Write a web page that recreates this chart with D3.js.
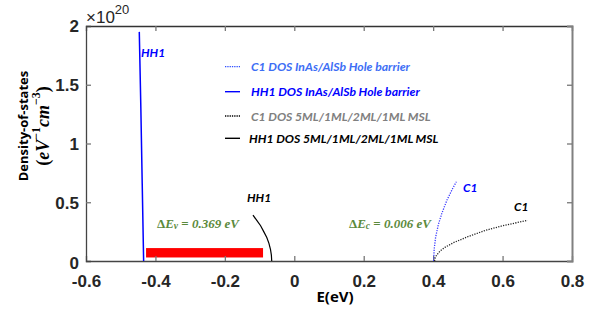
<!DOCTYPE html>
<html><head><meta charset="utf-8">
<script src="https://cdn.jsdelivr.net/npm/d3@7"></script>
<style>body{margin:0;background:#fff}svg{display:block}</style>
</head><body>
<script>
// Data (DOS in units of 1e20 eV^-1 cm^-3)
const xTicks = [-0.6, -0.4, -0.2, 0, 0.2, 0.4, 0.6, 0.8];
const yTicks = [0, 0.5, 1, 1.5, 2];
const xTickLabels = ["-0.6", "-0.4", "-0.2", "0", "0.2", "0.4", "0.6", "0.8"];
const yTickLabels = ["0", "0.5", "1", "1.5", "2"];

const hh1BarrierE   = [-0.4465, -0.4420, -0.4380, -0.4340];
const hh1BarrierDOS = [1.95, 1.30, 0.65, 0.0];

const c1BarrierE   = [0.4015, 0.4020, 0.4030, 0.4070, 0.4150, 0.4250, 0.4400, 0.4550, 0.4670];
const c1BarrierDOS = [0.0, 0.04, 0.10, 0.20, 0.31, 0.405, 0.52, 0.61, 0.675];

const hh1MslE   = [-0.119, -0.108, -0.097, -0.088, -0.0792, -0.073, -0.0686, -0.066, -0.065];
const hh1MslDOS = [0.39, 0.345, 0.30, 0.25, 0.20, 0.15, 0.10, 0.05, 0.0];

const c1MslE   = [0.404, 0.406, 0.410, 0.420, 0.435, 0.460, 0.500, 0.550, 0.600, 0.672];
const c1MslDOS = [0.0, 0.03, 0.05, 0.085, 0.118, 0.158, 0.207, 0.26, 0.30, 0.346];

const bandGapBar = {E0: -0.427, E1: -0.090, dos0: 0.03, dos1: 0.11};

const legendLabels = ["C1 DOS InAs/AlSb Hole barrier", "HH1 DOS InAs/AlSb Hole barrier",
                      "C1 DOS 5ML/1ML/2ML/1ML MSL", "HH1 DOS 5ML/1ML/2ML/1ML MSL"];
const legendColors = ["#3d6ef5", "#0000ff", "#808080", "#000000"];
const legendLine = ["#2f4fff", "#0000ff", "#000000", "#000000"];
const legendDash = [true, false, true, false];

const W = 599, H = 331;
const m = {l: 86, r: 572, t: 26, b: 261};
const x = d3.scaleLinear().domain([-0.6, 0.8]).range([m.l, m.r]);
const y = d3.scaleLinear().domain([0, 2]).range([m.b, m.t]);

const svg = d3.select("body").append("svg").attr("width", W).attr("height", H);
svg.append("rect").attr("width", W).attr("height", H).attr("fill", "#fff");

// red bar
svg.append("rect")
  .attr("x", x(bandGapBar.E0)).attr("y", y(bandGapBar.dos1))
  .attr("width", x(bandGapBar.E1) - x(bandGapBar.E0))
  .attr("height", y(bandGapBar.dos0) - y(bandGapBar.dos1))
  .attr("fill", "#ff0000");

// axes with inward ticks
const tickCol = "#777";
const tickFont = "'Liberation Sans Narrow', 'Arial Narrow', sans-serif";
const axB = d3.axisBottom(x).tickValues(xTicks).tickSize(-5).tickFormat((d,i)=>xTickLabels[i]).tickPadding(14);
const axT = d3.axisTop(x).tickValues(xTicks).tickSize(-5).tickFormat("");
const axL = d3.axisLeft(y).tickValues(yTicks).tickSize(-5).tickFormat((d,i)=>yTickLabels[i]).tickPadding(7);
const axR = d3.axisRight(y).tickValues(yTicks).tickSize(-5).tickFormat("");

function style(g, lineCol) {
  g.select(".domain").attr("stroke", lineCol).attr("stroke-width", 1.3);
  g.selectAll(".tick line").attr("stroke", tickCol).attr("stroke-width", 1.3);
  g.selectAll(".tick text").attr("fill", "#262626")
    .attr("font-family", tickFont)
    .attr("font-weight", "bold").attr("font-size", 17);
}
const gB = svg.append("g").attr("transform", `translate(0,${m.b})`).call(axB);
style(gB, "#444");
gB.selectAll(".tick text").attr("dy", "0.71em");
gB.selectAll(".tick").filter(d => d === -0.6 || d === 0.8).select("line").remove();
const gT = svg.append("g").attr("transform", `translate(0,${m.t})`).call(axT);
style(gT, "#333");
gT.selectAll(".tick").filter(d => d === -0.6 || d === 0.8).select("line").remove();
const gL = svg.append("g").attr("transform", `translate(${m.l},0)`).call(axL);
style(gL, "#444");
gL.selectAll(".tick").filter(d => d === 0 || d === 2).select("line").remove();
gL.selectAll(".tick text").attr("dy", "0.35em");
gL.selectAll(".tick").filter(d => d === 0).select("text").attr("dy", "0.45em");
const gR = svg.append("g").attr("transform", `translate(${m.r},0)`).call(axR);
style(gR, "#808080");
gR.select(".domain").attr("stroke-width", 2);
gR.selectAll(".tick").filter(d => d === 0 || d === 2).select("line").remove();

// curves
const line = d3.line().x(d => x(d[0])).y(d => y(d[1]));
function pairs(a, b) { return a.map((v, i) => [v, b[i]]); }

svg.append("path").attr("d", line(pairs(hh1BarrierE, hh1BarrierDOS)))
  .attr("fill", "none").attr("stroke", "#0000ff").attr("stroke-width", 1.5);
svg.append("path").attr("d", line(pairs(c1BarrierE, c1BarrierDOS)))
  .attr("fill", "none").attr("stroke", "#3a3aff").attr("stroke-width", 1.3)
  .attr("stroke-dasharray", "1.2,1.3");
svg.append("path").attr("d", line(pairs(hh1MslE, hh1MslDOS)))
  .attr("fill", "none").attr("stroke", "#000").attr("stroke-width", 1.2);
svg.append("path").attr("d", line(pairs(c1MslE, c1MslDOS)))
  .attr("fill", "none").attr("stroke", "#222").attr("stroke-width", 1.3)
  .attr("stroke-dasharray", "1.2,1.3");

// curve labels
const lblFont = "Lato, 'Open Sans', sans-serif";
function lbl(txt, xx, yy, col) {
  svg.append("text").attr("x", xx).attr("y", yy).text(txt)
    .attr("font-family", lblFont).attr("font-style", "italic").attr("font-weight", "bold")
    .attr("font-size", 12).attr("fill", col).attr("dominant-baseline", "central");
}
lbl("HH1", 141, 52, "#0000ff");
lbl("HH1", 247, 197, "#000");
lbl("C1", 463, 187, "#0000ff");
lbl("C1", 514, 206, "#000");

// delta E annotations
const mathFont = "'Liberation Serif', 'DejaVu Serif', serif";
function deltaLabel(sub, val, xx, yy) {
  const t = svg.append("text").attr("x", xx).attr("y", yy)
    .attr("font-family", mathFont).attr("font-weight", "bold").attr("font-size", 13)
    .attr("fill", "#5b8a3c").attr("dominant-baseline", "central");
  t.append("tspan").text("Δ");
  t.append("tspan").text("E").attr("font-style", "italic");
  t.append("tspan").text(sub).attr("font-style", "italic").attr("font-size", 9.5).attr("dy", 3);
  t.append("tspan").text(" = ").attr("dy", -3);
  t.append("tspan").text(val + " eV").attr("font-style", "italic");
}
deltaLabel("v", "0.369", 157, 223);
deltaLabel("c", "0.006", 349, 223);

// legend
const legY = [66.7, 91.7, 116, 138.3];
legendLabels.forEach((t, i) => {
  svg.append("line").attr("x1", 225).attr("x2", 240).attr("y1", legY[i]).attr("y2", legY[i])
    .attr("stroke", legendLine[i]).attr("stroke-width", legendDash[i] ? 1.3 : 1.4)
    .attr("stroke-dasharray", legendDash[i] ? "1.3,1" : null);
  svg.append("text").attr("x", i === 3 ? 249 : 251).attr("y", legY[i]).text(t)
    .attr("font-family", lblFont).attr("font-style", "italic").attr("font-weight", "bold")
    .attr("font-size", 12.2).attr("fill", legendColors[i]).attr("dominant-baseline", "central");
});

// x10^20
const ex = svg.append("text").attr("x", 86).attr("y", 17)
  .attr("font-family", "'Liberation Sans', Arial, sans-serif").attr("font-size", 17)
  .attr("fill", "#262626").attr("dominant-baseline", "central");
ex.append("tspan").text("×10");
ex.append("tspan").text("20").attr("font-size", 13).attr("dy", -8);

// axis labels
svg.append("text").attr("x", 335).attr("y", 296).text("E(eV)")
  .attr("text-anchor", "middle").attr("dominant-baseline", "central")
  .attr("font-family", "'Open Sans', sans-serif").attr("font-weight", "bold").attr("font-size", 15)
  .attr("fill", "#000");
svg.append("text").attr("transform", "translate(23,126) rotate(-90)").text("Density-of-states")
  .attr("text-anchor", "middle").attr("dominant-baseline", "central")
  .attr("font-family", "'Open Sans', sans-serif").attr("font-weight", "bold").attr("font-size", 13)
  .attr("fill", "#000");
const yl2 = svg.append("text").attr("transform", "translate(43,126) rotate(-90)")
  .attr("text-anchor", "middle").attr("dominant-baseline", "central")
  .attr("font-family", mathFont).attr("font-weight", "bold").attr("font-size", 18)
  .attr("fill", "#000");
yl2.append("tspan").text("(");
yl2.append("tspan").text("eV").attr("font-style", "italic");
yl2.append("tspan").text("−1").attr("font-size", 12).attr("dy", -7);
yl2.append("tspan").text("cm").attr("font-style", "italic").attr("dy", 7);
yl2.append("tspan").text("−3").attr("font-size", 12).attr("dy", -7);
yl2.append("tspan").text(")").attr("dy", 7);
</script>
</body></html>
